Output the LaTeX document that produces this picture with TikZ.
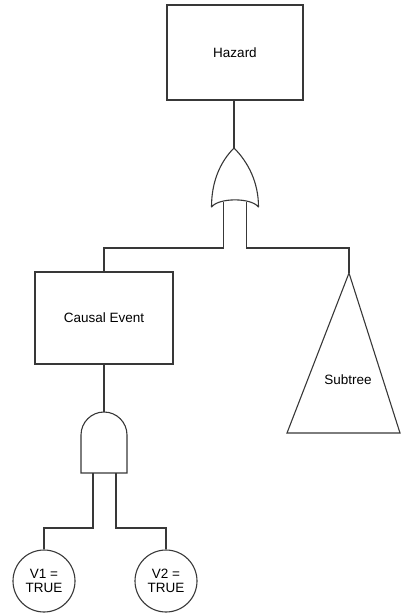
\documentclass[tikz,border=0pt]{standalone}
\usepackage{fontspec}
\setmainfont{Liberation Sans}
\usetikzlibrary{shapes.geometric}
\begin{document}
\begin{tikzpicture}[x=1pt,y=-1pt,
  wire/.style={draw=black!78,line width=1.1pt},
  event/.style={draw=black!78,line width=1.1pt,rectangle,inner sep=0pt,font=\fontsize{13.5}{15}\selectfont},
  basic/.style={draw=black!78,line width=1.1pt,circle,inner sep=0pt,minimum size=62pt,align=center,font=\fontsize{13.5}{14}\selectfont},
  label/.style={font=\fontsize{13.5}{15}\selectfont,inner sep=0pt}]
\useasboundingbox (0,0) rectangle (401,615);

% top event
\node[event,minimum width=136pt,minimum height=95pt] (hazard) at (235,52.5) {Hazard};

% OR gate
\coordinate (orTop) at (234,148);
\coordinate (orInL) at (223.5,202);
\coordinate (orInR) at (246.5,202);
\draw[wire,fill=white,line join=round] (orTop)
  .. controls (220,162) and (211.5,182) .. (211.5,207)
  .. controls (219,197.5) and (251,197.5) .. (258.5,207)
  .. controls (258.5,182) and (248,162) .. (orTop) -- cycle;

% intermediate event
\node[event,minimum width=138pt,minimum height=92pt] (cause) at (104,318) {Causal Event};

% subtree triangle
\coordinate (subTop) at (349,273);
\coordinate (subL) at (287,433);
\coordinate (subR) at (400,433);
\draw[wire,line join=miter] (subTop) -- (subL) -- (subR) -- cycle;
\node[label] (subtree) at (348,380) {Subtree};

% AND gate
\coordinate (andTop) at (104,412);
\coordinate (andInL) at (93,473);
\coordinate (andInR) at (116,473);
\draw[wire,fill=white] (81,473) -- (81,435) arc[start angle=180,end angle=360,radius=23] -- (127,473) -- cycle;

% basic events
\node[basic] (v1) at (44,581) {V1 =\\TRUE};
\node[basic] (v2) at (166,581) {V2 =\\TRUE};

% connectors
\draw[wire] (hazard.south -| orTop) -- (orTop);
\draw[wire] (orInL) -- (orInL |- 0,248) -| (cause.north);
\draw[wire] (orInR) -- (orInR |- 0,248) -| (subTop);
\draw[wire] (cause.south) -- (andTop);
\draw[wire] (andInL) -- (andInL |- 0,528) -| (v1.north);
\draw[wire] (andInR) -- (andInR |- 0,528) -| (v2.north);
\end{tikzpicture}
\end{document}
